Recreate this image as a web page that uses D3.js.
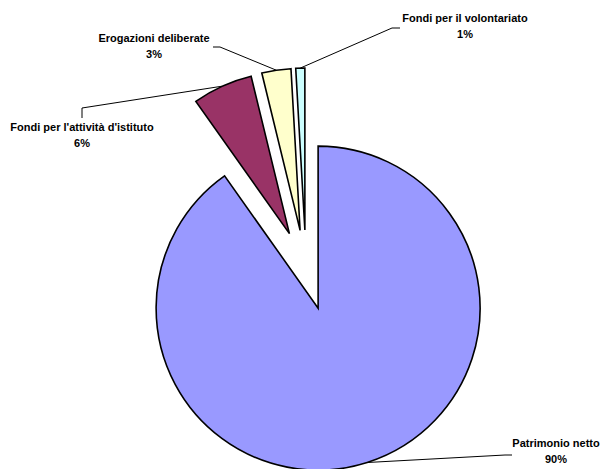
<!DOCTYPE html>
<html>
<head>
<meta charset="utf-8">
<script src="https://cdn.jsdelivr.net/npm/d3@7"></script>
<style>
  html, body { margin: 0; padding: 0; background: #fff; }
  svg { display: block; }
  text { font-family: "Liberation Sans", Arial, sans-serif; font-weight: bold; font-size: 11px; fill: #000; }
</style>
</head>
<body>
<svg id="chart" width="602" height="469"></svg>
<script>
// Data
const categories = ["Patrimonio netto", "Fondi per l'attività d'istituto", "Erogazioni deliberate", "Fondi per il volontariato"];
const values = [90.2, 6.0, 2.9, 0.9];
const colors = ["#9999FF", "#993366", "#FFFFCC", "#CCFFFF"];

// Layout (label anchor positions and leader elbow points)
const labelPos = [[556, 447], [82, 131], [154, 42], [465, 22]];
const leaderElbow = [[505, 455], [82, 108], [220, 47], [392, 28]];
const leaderEnd = [[512, 455], [82, 118], [213, 47], [400, 28]];

const W = 602, H = 469;
const cx = 306, cy = 270, R = 162, explode = 40;

const svg = d3.select("#chart");
const total = d3.sum(values);
const data = categories.map((c, i) => ({ name: c, value: values[i], color: colors[i], i }));

const pie = d3.pie().value(d => d.value).sort(null).startAngle(0).endAngle(2 * Math.PI);
const arcs = pie(data);
const arc = d3.arc().innerRadius(0).outerRadius(R);

const g = svg.append("g").attr("transform", `translate(${cx},${cy})`);

function offset(a) {
  const m = (a.startAngle + a.endAngle) / 2;
  return [explode * Math.sin(m), -explode * Math.cos(m)];
}

g.selectAll("path.slice")
  .data(arcs)
  .enter().append("path")
  .attr("class", "slice")
  .attr("d", arc)
  .attr("transform", d => { const o = offset(d); return `translate(${o[0]},${o[1]})`; })
  .attr("fill", d => d.data.color)
  .attr("stroke", "#000")
  .attr("stroke-width", 1.6)
  .attr("stroke-linejoin", "miter");

// Leader lines
arcs.forEach((a, i) => {
  const o = offset(a);
  const m = (a.startAngle + a.endAngle) / 2;
  const sx = cx + o[0] + R * Math.sin(m);
  const sy = cy + o[1] - R * Math.cos(m);
  svg.append("polyline")
    .attr("points", [[sx, sy], leaderElbow[i], leaderEnd[i]].map(p => p.join(",")).join(" "))
    .attr("fill", "none")
    .attr("stroke", "#000")
    .attr("stroke-width", 1);
});

// Labels
arcs.forEach((a, i) => {
  const [lx, ly] = labelPos[i];
  const t = svg.append("text").attr("text-anchor", "middle");
  t.append("tspan").attr("x", lx).attr("y", ly).text(a.data.name);
  t.append("tspan").attr("x", lx).attr("y", ly + 15.5).text(Math.round(a.data.value / total * 100) + "%");
});
</script>
</body>
</html>
